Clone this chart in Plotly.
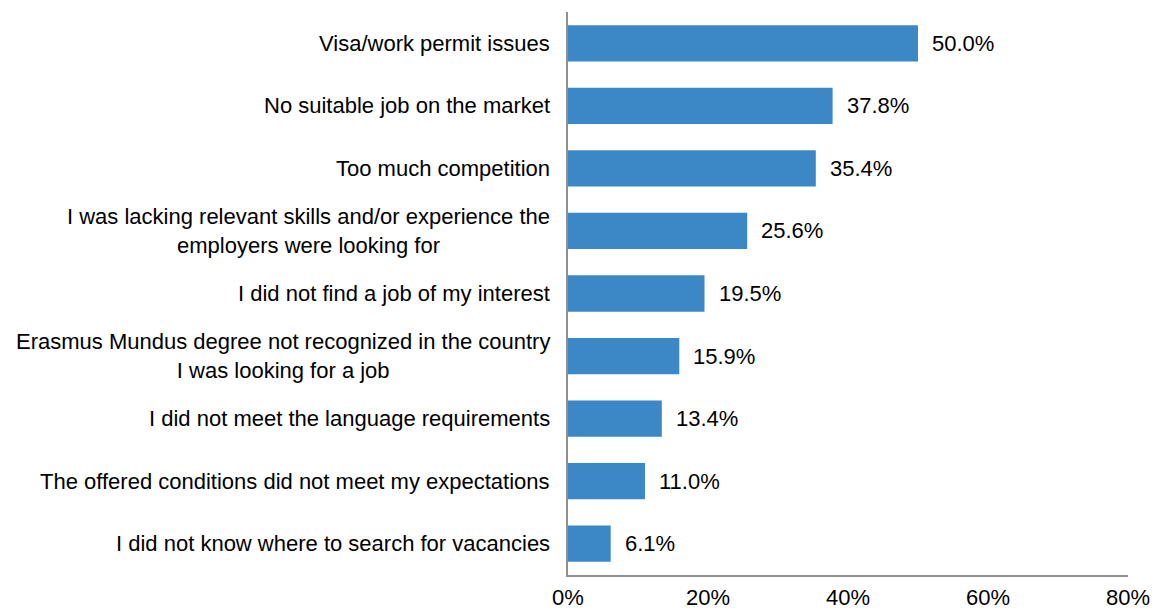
import plotly.graph_objects as go

categories = [
    "Visa/work permit issues",
    "No suitable job on the market",
    "Too much competition",
    "I was lacking relevant skills and/or experience the<br>employers were looking for",
    "I did not find a job of my interest",
    "Erasmus Mundus degree not recognized in the country<br>I was looking for a job",
    "I did not meet the language requirements",
    "The offered conditions did not meet my expectations",
    "I did not know where to search for vacancies",
]
shares = [50.0, 37.8, 35.4, 25.6, 19.5, 15.9, 13.4, 11.0, 6.1]
tick_vals = [0, 20, 40, 60, 80]
tick_text = ["0%", "20%", "40%", "60%", "80%"]

FONT = "Liberation Sans, Arial, sans-serif"
FONT_SIZE = 22
AXIS_COLOR = "#8f8f8f"

positions = list(range(len(categories)))

fig = go.Figure(
    go.Bar(
        x=shares,
        y=positions,
        orientation="h",
        marker=dict(color="#3c87c6", line=dict(width=0)),
        hoverinfo="skip",
    )
)

# Value labels just past the end of each bar
for i, v in zip(positions, shares):
    fig.add_annotation(
        x=v, xref="x", xanchor="left", xshift=12,
        y=i, yref="y", yanchor="middle",
        text=f"{v:.1f}%", showarrow=False,
        font=dict(family=FONT, size=FONT_SIZE, color="#000000"),
    )

# Category labels as centred, right-anchored annotations next to the axis
for i, label in zip(positions, categories):
    fig.add_annotation(
        x=0, xref="paper", xanchor="right", xshift=-16,
        y=i, yref="y", yanchor="middle",
        text=label, showarrow=False, align="center",
        font=dict(family=FONT, size=FONT_SIZE, color="#000000"),
    )

fig.update_layout(
    width=1155, height=610,
    margin=dict(l=568, r=27, t=12, b=35),
    paper_bgcolor="white", plot_bgcolor="white",
    bargap=0.42,
    showlegend=False,
    font=dict(family=FONT, size=FONT_SIZE, color="#000000"),
)
fig.update_xaxes(
    range=[0, 80], tickvals=tick_vals, ticktext=tick_text,
    showgrid=False, zeroline=False, automargin=False,
    showline=True, linecolor=AXIS_COLOR, linewidth=2,
    ticks="", ticklabelstandoff=2,
    tickfont=dict(family=FONT, size=FONT_SIZE, color="#000000"),
)
fig.update_yaxes(
    range=[8.5, -0.5], showticklabels=False, automargin=False,
    showgrid=False, zeroline=False,
    showline=True, linecolor=AXIS_COLOR, linewidth=2, ticks="",
)

fig.write_html("out.html")
